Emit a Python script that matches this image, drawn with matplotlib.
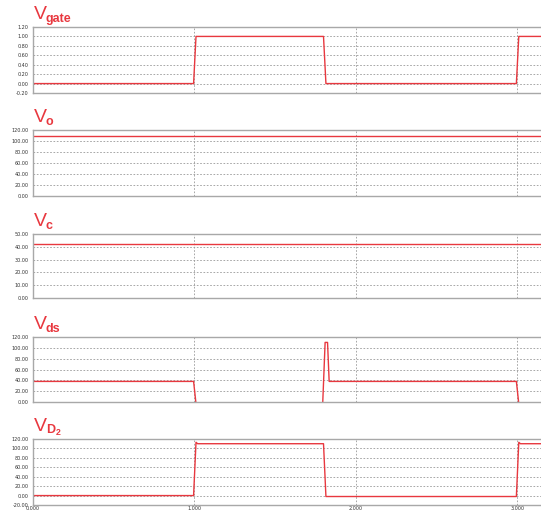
import matplotlib.pyplot as plt
from matplotlib.ticker import FormatStrFormatter

plt.rcParams['mathtext.fontset'] = 'custom'
plt.rcParams['mathtext.rm'] = 'Liberation Sans'
plt.rcParams['mathtext.bf'] = 'Liberation Sans:bold'

# time axis (one switching period = 1 unit)
x_ticks = [0, 1, 2, 3]
x_tick_labels = ['0.000', '1.000', '2.000', '3.000']

# gate signal
gate_t = [0, 0.995, 1.01, 1.80, 1.815, 2.995, 3.01, 3.3]
gate_v = [0, 0, 1, 1, 0, 0, 1, 1]

# output voltage
vo_t = [0, 3.3]
vo_v = [110, 110]

# capacitor voltage
vc_t = [0, 3.3]
vc_v = [42.5, 42.5]

# drain-source voltage
vds_t = [0, 0.995, 1.01, 1.795, 1.81, 1.825, 1.835, 2.995, 3.01, 3.3]
vds_v = [38, 38, -3, -3, 110, 110, 38, 38, -3, -3]

# diode D2 voltage
vd2_t = [0, 0.995, 1.01, 1.02, 1.80, 1.815, 2.995, 3.01, 3.02, 3.3]
vd2_v = [0, 0, 113, 110, 110, -2, -2, 113, 110, 110]

panels = [
    ('gate', gate_t, gate_v, (-0.2, 1.2), 0.2, '%.2f'),
    ('o', vo_t, vo_v, (0, 120), 20, '%.2f'),
    ('c', vc_t, vc_v, (0, 50), 10, '%.2f'),
    ('ds', vds_t, vds_v, (0, 120), 20, '%.2f'),
    (r'$\mathbf{D_2}$', vd2_t, vd2_v, (-20, 120), 20, '%.2f'),
]

# axes top/bottom in pixels
boxes = [(27, 93), (130, 196), (234, 298), (337, 402), (439, 505)]

W, H = 541, 512
fig = plt.figure(figsize=(W / 100, H / 100), dpi=100)
red = '#e8383f'
frame = '#a8a8a8'

for (sub, t, v, ylim, step, fmt), (top, bot) in zip(panels, boxes):
    left = 33
    ax = fig.add_axes([left / W, 1 - bot / H, (W - left + 2) / W, (bot - top) / H])
    ax.plot(t, v, color=red, lw=1.0)
    ax.set_xlim(0, 3.16)
    ax.set_ylim(*ylim)
    n = int(round((ylim[1] - ylim[0]) / step))
    yt = [ylim[0] + i * step for i in range(n + 1)]
    ax.set_yticks(yt)
    ax.yaxis.set_major_formatter(FormatStrFormatter(fmt))
    ax.set_xticks(x_ticks)
    ax.tick_params(length=0, labelsize=3.5, colors='#333333', pad=3)
    for y in yt[1:-1]:
        ax.axhline(y, color='#999999', lw=0.6, ls=(0, (2, 2)), zorder=0)
    for x in x_ticks[1:]:
        ax.axvline(x, color='#999999', lw=0.6, ls=(0, (2, 2)), zorder=0)
    for s in ax.spines.values():
        s.set_color(frame)
        s.set_linewidth(1.0)
    if top == boxes[-1][0]:
        ax.set_xticklabels(x_tick_labels)
        ax.tick_params(axis='x', labelsize=3.5, pad=1)
    else:
        ax.set_xticklabels([])
    # title: large V with bold subscript
    fig.text(34 / W, 1 - (top - 8) / H, 'V', color=red, fontsize=14,
             family='Liberation Sans', ha='left', va='baseline')
    fig.text(46 / W, 1 - (top - 5) / H, sub, color=red, fontsize=9,
             family='Liberation Sans', weight='bold', ha='left', va='baseline')

fig.savefig('out.png', dpi=100)
